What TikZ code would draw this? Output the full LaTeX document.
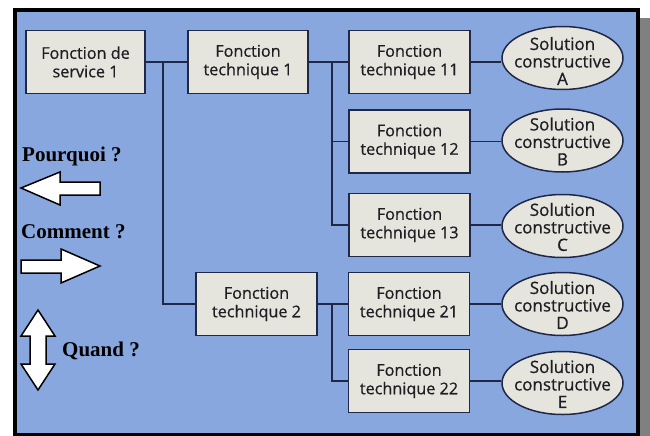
\documentclass[tikz,border=0pt]{standalone}
\usepackage{fontspec}
\setmainfont{Liberation Serif}
\newfontfamily\boxfont{Open Sans}[FakeBold=0.6]
\usetikzlibrary{shapes.geometric}
\definecolor{bgblue}{RGB}{137,167,223}
\definecolor{boxfill}{RGB}{230,229,221}
\definecolor{linecol}{RGB}{32,40,72}
\definecolor{textcol}{RGB}{30,30,35}
\definecolor{shadowgray}{RGB}{128,128,128}
\tikzset{
  fbox/.style={draw=linecol, line width=1.5pt, fill=boxfill, minimum width=121pt, minimum height=63pt, inner sep=0pt, align=center, text=textcol, font=\boxfont\fontsize{16.2}{18.5}\selectfont},
  sol/.style={ellipse, draw=linecol, line width=1.5pt, fill=boxfill, minimum width=121pt, minimum height=63pt, inner sep=0pt},
  soltext/.style={align=center, inner sep=0pt, text=textcol, font=\boxfont\fontsize{17}{17.5}\selectfont},
  link/.style={draw=linecol, line width=1.5pt},
  bigarrow/.style={draw=black, fill=white, line width=1.5pt, line join=miter},
  qlabel/.style={anchor=base west, inner sep=0pt, font=\fontsize{21}{24}\selectfont\bfseries}
}
\begin{document}
\begin{tikzpicture}[x=1pt,y=-1pt]
\useasboundingbox (0,0) rectangle (650,436);
% shadow and frame
\fill[shadowgray] (640,18) rectangle (650,436);
\draw[line width=4pt, fill=bgblue] (15,10) rectangle (638,435);
% nodes
\node[fbox, minimum width=119pt] (fs1) at (85.5,62) {Fonction de\\service 1};
\node[fbox, minimum width=120pt] (ft1) at (248,62) {Fonction\\technique 1};
\node[fbox] (ft11) at (409.5,62) {Fonction\\technique 11};
\node[fbox] (ft12) at (409.5,141.5) {Fonction\\technique 12};
\node[fbox] (ft13) at (409.5,225) {Fonction\\technique 13};
\node[fbox] (ft2) at (256.5,304) {Fonction\\technique 2};
\node[fbox] (ft21) at (409,304) {Fonction\\technique 21};
\node[fbox] (ft22) at (409,381) {Fonction\\technique 22};
\node[sol] (sa) at (562.5,58) {};
\node[sol] (sb) at (562.5,140.5) {};
\node[sol] (sc) at (562.5,226) {};
\node[sol] (sd) at (562.5,304) {};
\node[sol] (se) at (562.5,383) {};
\node[soltext] (ta) at ([yshift=-3pt]sa.center) {Solution\\constructive\\A};
\node[soltext] (tb) at ([yshift=-1pt]sb.center) {Solution\\constructive\\B};
\node[soltext] (tc) at ([yshift=-1pt]sc.center) {Solution\\constructive\\C};
\node[soltext] (td) at ([yshift=-1pt]sd.center) {Solution\\constructive\\D};
\node[soltext] (te) at ([yshift=-1pt]se.center) {Solution\\constructive\\E};
% junctions
\coordinate (j1) at (163,62);
\coordinate (j2) at (332,62);
\coordinate (j3) at (332,304);
% connectors
\draw[link] (fs1.east) -- (ft1.west);
\draw[link] (j1) |- (ft2.west);
\draw[link] (ft1.east) -- (ft11.west);
\draw[link] (j2) |- (ft12.west);
\draw[link] (j2) |- (ft13.west);
\draw[link] (ft2.east) -- (ft21.west);
\draw[link] (j3) |- (ft22.west);
\draw[link] (ft11.east) -- (ft11.east -| sa.west);
\draw[link] (ft12.east) -- (ft12.east -| sb.west);
\draw[link] (ft13.east) -- (ft13.east -| sc.west);
\draw[link] (ft21.east) -- (ft21.east -| sd.west);
\draw[link] (ft22.east) -- (ft22.east -| se.west);
% left annotations
\node[qlabel] (pq) at (22,161) {Pourquoi ?};
\node[qlabel] (cm) at (21,238) {Comment ?};
\node[qlabel] (qd) at (62,356) {Quand ?};
\draw[bigarrow] (21,188) -- (60,172) -- (60,182) -- (100,182) -- (100,195) -- (60,195) -- (60,205) -- cycle;
\draw[bigarrow] (21,260) -- (61,260) -- (61,249) -- (100,266) -- (61,283) -- (61,273) -- (21,273) -- cycle;
\draw[bigarrow] (38,310) -- (55,336) -- (46,336) -- (46,364) -- (55,364) -- (38,390) -- (21,364) -- (30,364) -- (30,336) -- (21,336) -- cycle;
\end{tikzpicture}
\end{document}
